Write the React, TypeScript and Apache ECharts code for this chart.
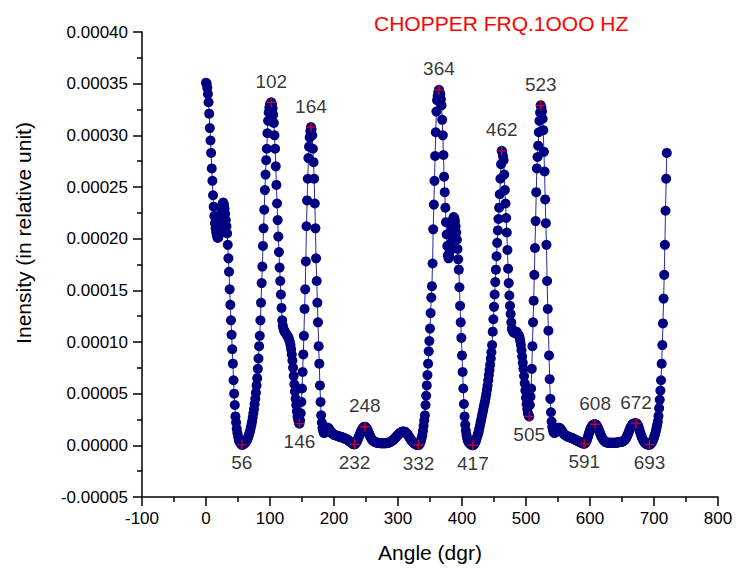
import React, { useEffect, useRef } from "react";
import * as echarts from "echarts";

// Angle sampling (degrees)
const angleStart = 0;
const angleStep = 1;

// Intensity readings, in units of 1e-6 (relative unit), one per degree from 0 to 720
const intensity: number[] = [
  351, 350, 346, 340, 332, 321, 307, 295, 283, 268,
  256, 242, 231, 222, 215, 210, 206, 203, 201, 201,
  203, 207, 213, 219, 225, 230, 234, 235, 233, 229,
  224, 218, 212, 205, 194, 181, 168, 151, 136, 121,
  107, 93, 79, 63, 50, 39, 28, 22, 16, 12,
  9, 6, 4, 3, 2, 1, 0.5, 0.6, 0.9, 1.3,
  1.8, 2.4, 3, 4, 5, 6.5, 8, 10, 12, 14,
  17, 20, 23, 27, 31, 35, 40, 45, 51, 58,
  65, 74, 84, 96, 106, 121, 138, 157, 173, 193,
  210, 228, 247, 262, 276, 287, 302, 314, 322, 327,
  330, 331, 332, 330, 326, 320, 312, 300, 287, 270,
  252, 234, 218, 202, 187, 172, 159, 146, 133, 121,
  116, 113, 111, 110, 109, 108, 107, 106, 105, 104,
  102, 100, 97, 93, 88, 82, 75, 67, 59, 52,
  45, 39, 33, 28, 25, 22, 21, 24, 31, 42,
  55, 71, 88, 106, 132, 151, 178, 212, 237, 258,
  278, 289, 298, 304, 308, 306, 300, 287, 274, 258,
  234, 210, 181, 159, 138, 119, 96, 79, 58, 42,
  29, 22, 17, 14, 12, 12, 13, 15, 16, 17,
  17, 17, 16, 15, 14, 13, 12, 12, 11, 11,
  10, 10, 10, 9.5, 9.5, 9, 9, 9, 8.5, 8.5,
  8, 8, 8, 7.5, 7.5, 7, 7, 6.5, 6.5, 6,
  6, 5.5, 5, 4.5, 4, 3.5, 3, 2.5, 2, 1.5,
  1.2, 1.1, 1.0, 1.2, 2, 3, 4, 5.5, 7, 8.5,
  10, 11.5, 13, 14.5, 15.5, 16.5, 17.3, 17.8, 18, 17.8,
  17.3, 16.5, 15.5, 14, 12.5, 11, 9.5, 8, 6.8, 5.8,
  5, 4.4, 4, 3.6, 3.3, 3, 2.8, 2.6, 2.5, 2.4,
  2.3, 2.2, 2.1, 2, 2, 2, 2, 2, 2, 2,
  2, 2, 2.1, 2.2, 2.3, 2.5, 2.7, 3, 3.3, 3.7,
  4, 4.4, 4.9, 5.4, 6, 6.7, 7.4, 8.1, 8.8, 9.5,
  10.2, 10.8, 11.4, 11.9, 12.3, 12.7, 13, 13.2, 13.3, 13.3,
  13.2, 13, 12.6, 12, 11.3, 10.5, 9.6, 8.6, 7.6, 6.6,
  5.6, 4.7, 3.9, 3.2, 2.6, 2.1, 1.6, 1.2, 0.9, 0.7,
  0.5, 0.4, 0.3, 0.5, 1.5, 3, 5, 7, 10, 14,
  19, 24, 29, 39, 48, 58, 68, 79, 91, 101,
  113, 128, 143, 154, 176, 209, 233, 256, 280, 303,
  323, 334, 338, 342, 344, 342, 340, 335, 329, 315,
  300, 281, 260, 245, 230, 216, 204, 193, 184, 181,
  183, 188, 195, 203, 210, 215, 219, 221, 220, 217,
  212, 206, 199, 190, 180, 170, 153, 135, 119, 104,
  87, 71, 55, 40, 28, 20, 14, 10, 7, 5,
  3.5, 2.5, 1.8, 1.2, 0.8, 0.5, 0.3, 0.2, 0.4, 1,
  2, 3, 5, 7, 9, 11, 13, 16, 19, 22,
  25, 28, 31, 34, 37, 40, 43, 46, 50, 54,
  58, 63, 68, 73, 78, 84, 90, 97, 110, 122,
  134, 146, 158, 170, 183, 196, 208, 219, 230, 243,
  258, 272, 285, 284, 280, 276, 262, 247, 234, 220,
  206, 189, 171, 157, 145, 135, 127, 119, 113, 111,
  110, 109, 109, 109, 110, 110, 109, 108, 107, 106,
  104, 101, 97, 92, 86, 80, 74, 67, 60, 53,
  46, 40, 35, 31, 29, 28, 39, 47, 55, 74,
  96, 119, 140, 165, 191, 217, 245, 268, 279, 290,
  303, 314, 322, 329, 327, 323, 316, 305, 284, 265,
  238, 215, 194, 159, 132, 111, 87, 64, 45, 32,
  23, 18, 15, 13, 12, 12, 13, 14, 15, 16,
  16.5, 17, 17, 16.5, 16, 15, 14, 13, 12, 11,
  10.5, 10, 9.5, 9, 9, 8.5, 8.5, 8, 8, 7.5,
  7.5, 7.2, 7, 6.7, 6.4, 6.1, 5.8, 5.5, 5.2, 4.8,
  4.5, 4.2, 3.9, 3.6, 3.3, 3.0, 2.7, 2.4, 2.1, 1.9,
  1.7, 1.5, 1.8, 2.5, 3.6, 5, 6.8, 8.8, 10.8, 12.8,
  14.6, 16.2, 17.5, 18.5, 19.3, 19.8, 20.1, 20.3, 20.4, 20.2,
  19.6, 18.6, 17.3, 16, 14.5, 12.9, 11.3, 9.8, 8.4, 7.2,
  6.1, 5.2, 4.5, 3.9, 3.4, 3.1, 2.9, 2.7, 2.6, 2.5,
  2.5, 2.5, 2.5, 2.5, 2.5, 2.5, 2.5, 2.5, 2.5, 2.5,
  2.6, 2.6, 2.7, 2.8, 2.9, 3, 3.1, 3.2, 3.3, 3.4,
  3.6, 3.8, 4.1, 4.5, 5, 5.7, 6.6, 7.7, 9, 10.5,
  12, 13.6, 15.2, 16.7, 18, 19.1, 20, 20.6, 21, 21.2,
  21.3, 21.3, 21.4, 21, 20.2, 19, 17.4, 15.5, 13.5, 11.5,
  9.5, 7.8, 6.3, 5, 3.9, 3, 2.3, 1.8, 1.4, 1.1,
  0.9, 0.8, 0.7, 0.6, 0.9, 1.5, 2.3, 3.3, 4.5, 6,
  7.5, 9.5, 11.5, 14, 17, 20, 23, 28.5, 36, 44,
  53, 63, 79, 97, 118, 142, 165, 194, 227, 258,
  283,
];

// Labelled extrema (angles in degrees)
const peaksAbove = [102, 164, 248, 364, 462, 523, 608, 672];
const peaksBelow = [56, 146, 232, 332, 417, 505, 591, 693];

const titleText = "CHOPPER FRQ.1OOO HZ";
const xTitle = "Angle (dgr)";
const yTitle = "Inensity (in relative unit)";

export default function App() {
  const ref = useRef<HTMLDivElement>(null);

  useEffect(() => {
    if (!ref.current) return;
    const chart = echarts.init(ref.current, null, { renderer: "svg" });
    const font = "'Liberation Sans', Arial, Helvetica, sans-serif";
    const points = intensity.map((v, i) => [angleStart + i * angleStep, v]);
    const peakPoint = (a: number) => [a, intensity[Math.round((a - angleStart) / angleStep)]];
    const plus = "path://M0,5L10,5M5,0L5,10";
    const axisColor = "#000000";

    const peakSeries = (list: number[], position: string, distance: number) => ({
      type: "scatter",
      data: list.map(peakPoint),
      symbol: plus,
      symbolSize: 10,
      z: 5,
      silent: true,
      itemStyle: { color: "none", borderColor: "#ff0000", borderWidth: 1.3 },
      label: {
        show: true,
        position,
        distance,
        formatter: (p: any) => String(p.value[0]),
        color: "#000000",
        fontSize: 19,
        fontFamily: font,
      },
    });

    chart.setOption({
      animation: false,
      title: {
        text: titleText,
        left: 369,
        top: 8,
        textStyle: { color: "#ff0000", fontSize: 21, fontWeight: "normal", fontFamily: font },
      },
      grid: { left: 142, right: 18, top: 32, bottom: 69 },
      xAxis: {
        type: "value",
        min: -100,
        max: 800,
        interval: 100,
        name: xTitle,
        nameLocation: "middle",
        nameGap: 45,
        nameTextStyle: { color: "#000000", fontSize: 21, fontFamily: font },
        axisLine: { show: true, onZero: false, lineStyle: { color: axisColor, width: 1.5 } },
        axisTick: { show: true, length: 9, lineStyle: { color: axisColor, width: 1.5 } },
        minorTick: { show: true, splitNumber: 2, length: 5, lineStyle: { color: axisColor, width: 1.5 } },
        splitLine: { show: false },
        minorSplitLine: { show: false },
        axisLabel: { margin: 13, color: "#000000", fontSize: 17, fontFamily: font },
      },
      yAxis: {
        type: "value",
        min: -50,
        max: 400,
        interval: 50,
        axisLine: { show: true, onZero: false, lineStyle: { color: axisColor, width: 1.5 } },
        axisTick: { show: true, length: 9, lineStyle: { color: axisColor, width: 1.5 } },
        minorTick: { show: true, splitNumber: 2, length: 5, lineStyle: { color: axisColor, width: 1.5 } },
        splitLine: { show: false },
        minorSplitLine: { show: false },
        axisLabel: {
          margin: 14,
          color: "#000000",
          fontSize: 17,
          fontFamily: font,
          formatter: (v: number) => (v / 1e6).toFixed(5),
        },
      },
      graphic: [
        {
          type: "text",
          x: 23,
          y: 233,
          rotation: Math.PI / 2,
          style: {
            text: yTitle,
            fill: "#000000",
            fontSize: 21,
            fontFamily: font,
            textAlign: "center",
            textVerticalAlign: "middle",
          },
        },
      ],
      series: [
        {
          type: "line",
          data: points,
          symbol: "circle",
          symbolSize: 10,
          showSymbol: true,
          showAllSymbol: true,
          silent: true,
          z: 2,
          itemStyle: { color: "#000080" },
          lineStyle: { color: "#2b2b9a", width: 1 },
        },
        peakSeries(peaksAbove, "top", 4),
        peakSeries(peaksBelow, "bottom", 1),
      ],
    });

    return () => chart.dispose();
  }, []);

  return (
    <div
      ref={ref}
      style={{ position: "absolute", left: 0, top: 0, width: 736, height: 568 }}
    />
  );
}
